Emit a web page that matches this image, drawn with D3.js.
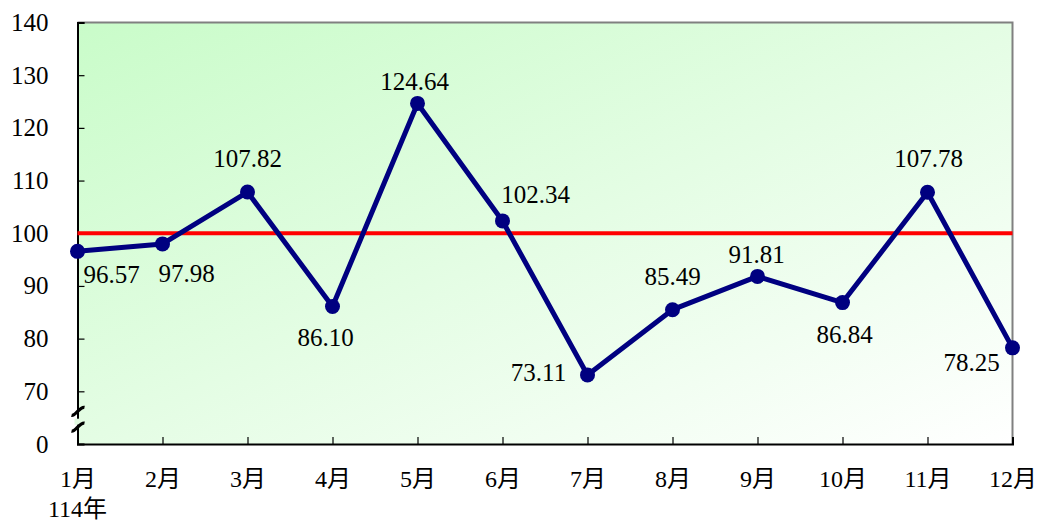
<!DOCTYPE html>
<html>
<head>
<meta charset="utf-8">
<script src="https://cdn.jsdelivr.net/npm/d3@7"></script>
<style>
  body { margin: 0; background: #fff; }
</style>
</head>
<body>
<div id="chart"></div>
<script>
// data
const months = ["1月", "2月", "3月", "4月", "5月", "6月", "7月", "8月", "9月", "10月", "11月", "12月"];
const values = [96.57, 97.98, 107.82, 86.10, 124.64, 102.34, 73.11, 85.49, 91.81, 86.84, 107.78, 78.25];
const yTicks = [60, 70, 80, 90, 100, 110, 120, 130, 140];
const refValue = 100;
const yearLabel = "114年";

// where each value label sits relative to its point [dx, dy]
const labelOffsets = [[34, 32], [24, 38], [0, -25], [-7, 40], [-3, -13], [33, -18],
                      [-49, 6], [0, -25], [-1, -13], [2, 40], [1, -25], [-41, 23]];

const W = 1037, H = 524;
const plotL = 77.5, plotR = 1012.5, plotT = 22.5, plotB = 444;
const FONT = "'Liberation Serif', Tinos, 'Times New Roman', 'DejaVu Serif', 'Noto Sans CJK TC', serif";

const svg = d3.select("#chart").append("svg").attr("width", W).attr("height", H)
  .style("font-family", FONT);

const x = d3.scalePoint().domain(months).range([plotL, plotR]).padding(0);
const y = d3.scaleLinear().domain([60, 140]).range([plotB, plotT]);

/* background gradient */
const defs = svg.append("defs");
const grad = defs.append("linearGradient").attr("id", "bg")
  .attr("x1", "0").attr("y1", "0").attr("x2", "1").attr("y2", "1");
grad.append("stop").attr("offset", "0%").attr("stop-color", "#c9fcc9");
grad.append("stop").attr("offset", "50%").attr("stop-color", "#e4fde4");
grad.append("stop").attr("offset", "100%").attr("stop-color", "#ffffff");

svg.append("rect")
  .attr("x", plotL).attr("y", plotT)
  .attr("width", plotR - plotL).attr("height", plotB - plotT)
  .attr("fill", "url(#bg)");

/* gray frame top & right */
svg.append("path")
  .attr("d", `M${plotL},${plotT}H${plotR}V${plotB}`)
  .attr("fill", "none").attr("stroke", "#808080").attr("stroke-width", 2);

/* axes */
const yAxis = d3.axisLeft(y).tickValues(yTicks).tickSize(-7).tickPadding(29)
  .tickFormat(d => d === 60 ? "0" : d);
const gy = svg.append("g").attr("transform", `translate(${plotL},0)`).call(yAxis);
gy.attr("font-family", null);
gy.select(".domain").attr("stroke", "#000").attr("stroke-width", 2);
gy.selectAll(".tick line").attr("stroke", "#000").attr("stroke-width", 1.2);
gy.selectAll(".tick text").attr("font-size", 25).attr("font-family", FONT);

const xAxis = d3.axisBottom(x).tickSize(-7);
const gx = svg.append("g").attr("transform", `translate(0,${plotB})`).call(xAxis);
gx.attr("font-family", null);
gx.select(".domain").attr("stroke", "#000").attr("stroke-width", 2);
gx.selectAll(".tick line").attr("stroke", "#000").attr("stroke-width", 1.2);
gx.selectAll(".tick text").attr("font-size", 24).attr("font-family", FONT)
  .attr("y", 0).attr("dy", 0)
  .attr("transform", "translate(0,43)");

svg.append("text")
  .attr("x", x(months[0])).attr("y", 517)
  .attr("text-anchor", "middle").attr("font-size", 24).attr("font-family", FONT)
  .text(yearLabel);

/* axis break mark */
const brk = svg.append("g").attr("transform", `translate(${plotL},0)`);
brk.append("rect").attr("x", -3).attr("y", y(64.8)).attr("width", 6).attr("height", 6).attr("fill", "#e2fae2");
[y(66.2), y(63.2)].forEach(yy => {
  brk.append("path")
    .attr("d", `M-6,${yy + 4} C-2,${yy + 5} 2,${yy - 5} 7,${yy - 4}`)
    .attr("fill", "none").attr("stroke", "#000").attr("stroke-width", 3.2);
});

/* reference line */
svg.append("line")
  .attr("x1", plotL).attr("x2", plotR)
  .attr("y1", y(refValue)).attr("y2", y(refValue))
  .attr("stroke", "#ff0000").attr("stroke-width", 4);

/* series */
const line = d3.line().x((d, i) => x(months[i])).y(d => y(d));
svg.append("path").datum(values)
  .attr("d", line)
  .attr("fill", "none").attr("stroke", "#000080")
  .attr("stroke-width", 5).attr("stroke-linejoin", "round");

svg.selectAll("circle.pt").data(values).enter()
  .append("circle").attr("class", "pt")
  .attr("cx", (d, i) => x(months[i]))
  .attr("cy", d => y(d))
  .attr("r", 7.5)
  .attr("fill", "#000080");

svg.selectAll("text.val").data(values).enter()
  .append("text").attr("class", "val")
  .attr("x", (d, i) => x(months[i]) + labelOffsets[i][0])
  .attr("y", (d, i) => y(d) + labelOffsets[i][1])
  .attr("text-anchor", "middle")
  .attr("font-size", 25).attr("font-family", FONT)
  .text(d => d.toFixed(2));
</script>
</body>
</html>
